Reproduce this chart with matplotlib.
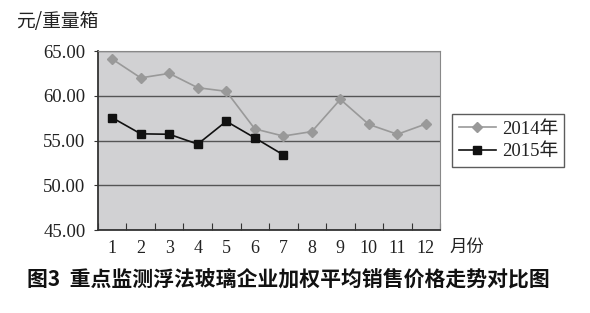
import matplotlib
matplotlib.use('Agg')
import matplotlib.pyplot as plt
import numpy as np

# data
months = [1, 2, 3, 4, 5, 6, 7, 8, 9, 10, 11, 12]
price_2014 = [64.1, 62.0, 62.5, 60.9, 60.5, 56.3, 55.5, 56.0, 59.6, 56.8, 55.7, 56.85]
price_2015 = [57.55, 55.75, 55.7, 54.6, 57.15, 55.3, 53.4]
y_ticks = [45, 50, 55, 60, 65]

serif = ['Liberation Serif', 'Noto Sans CJK SC']
cjk = ['Noto Sans CJK SC', 'DejaVu Sans']

fig = plt.figure(figsize=(5.9, 3.13), dpi=100)
ax = fig.add_axes([0.166, 0.265, 0.58, 0.572])
ax.set_facecolor('#d1d1d3')

ax.plot(months, price_2014, color='#999999', lw=1.2, marker='D', ms=5,
        label='2014年', zorder=3)
ax.plot(months[:len(price_2015)], price_2015, color='#111111', lw=1.2,
        marker='s', ms=5.5, label='2015年', zorder=4)

ax.set_xlim(0.5, 12.5)
ax.set_ylim(45, 65)

# y axis
ax.set_yticks(y_ticks)
ax.set_yticklabels(['%.2f' % v for v in y_ticks], family=serif, fontsize=13.5,
                   color='#222222')
ax.yaxis.grid(True, color='#555555', lw=1.0)
ax.set_axisbelow(True)
ax.tick_params(axis='y', length=3, direction='out', pad=6, color='#333333')

# x axis: ticks between categories, labels at the centres
ax.set_xticks(np.arange(0.5, 13, 1))
ax.set_xticklabels([])
ax.set_xticks(months, minor=True)
ax.set_xticklabels([str(m) for m in months], minor=True, family=serif,
                   fontsize=13, color='#222222')
ax.tick_params(axis='x', which='major', direction='in', length=5,
               color='#333333')
ax.tick_params(axis='x', which='minor', length=0, pad=7)

for side in ['top', 'right']:
    ax.spines[side].set_color('#888888')
for side in ['left', 'bottom']:
    ax.spines[side].set_color('#333333')
    ax.spines[side].set_linewidth(1.3)

fig.text(0.028, 0.93, '元/重量箱', family=cjk, fontsize=13.5, color='#222222',
         va='center')
fig.text(0.762, 0.21, '月份', family=cjk, fontsize=12.5, color='#222222',
         va='center')

leg = fig.legend(loc='upper left', bbox_to_anchor=(0.766, 0.636),
                 borderaxespad=0, prop={'family': serif, 'size': 13.5},
                 frameon=True, fancybox=False, edgecolor='#333333',
                 handlelength=2.0, borderpad=0.35, labelspacing=0.3,
                 handletextpad=0.3)
leg.get_frame().set_linewidth(1.0)
for t in leg.get_texts():
    t.set_color('#222222')

fig.text(0.045, 0.11, '图3  重点监测浮法玻璃企业加权平均销售价格走势对比图',
         family=cjk, fontsize=15, fontweight='bold', color='#111111',
         va='center')

fig.savefig('out.png', dpi=100)
